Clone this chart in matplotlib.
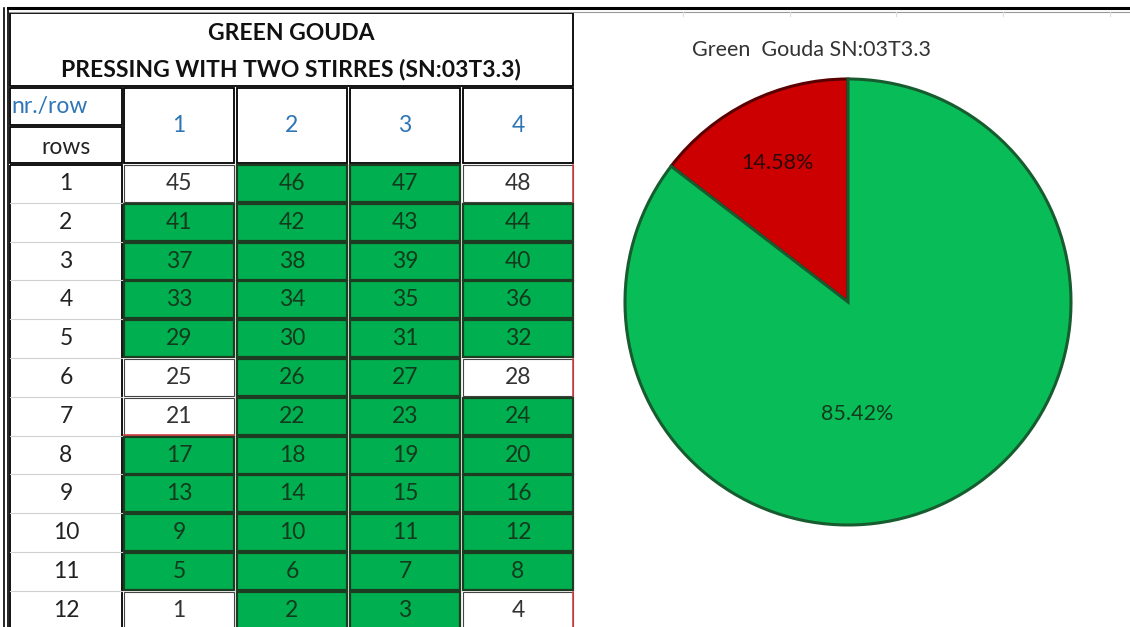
import matplotlib.pyplot as plt
from matplotlib.patches import Rectangle

plt.rcParams['font.family'] = ['Lato', 'DejaVu Sans']

# table data: cheese number per position, rows 1..12, columns 1..4
row_labels = ["1", "2", "3", "4", "5", "6", "7", "8", "9", "10", "11", "12"]
col_labels = ["1", "2", "3", "4"]
cheese_numbers = [
    [45, 46, 47, 48],
    [41, 42, 43, 44],
    [37, 38, 39, 40],
    [33, 34, 35, 36],
    [29, 30, 31, 32],
    [25, 26, 27, 28],
    [21, 22, 23, 24],
    [17, 18, 19, 20],
    [13, 14, 15, 16],
    [9, 10, 11, 12],
    [5, 6, 7, 8],
    [1, 2, 3, 4],
]
# cheeses that are not green (white cells)
not_ok = [45, 48, 25, 28, 21, 1, 4]

pie_labels = ["not ok", "ok"]
pie_values = [14.58, 85.42]
pie_colors = ["#cc0000", "#08bd58"]

title1 = "GREEN GOUDA"
title2 = "PRESSING WITH TWO STIRRES (SN:03T3.3)"
pie_title = "Green  Gouda SN:03T3.3"

FS = 16.5

W, H = 1130, 627
fig = plt.figure(figsize=(W / 100, H / 100), dpi=100)
ax = fig.add_axes([0, 0, 1, 1])
ax.set_xlim(0, W)
ax.set_ylim(H, 0)
ax.axis("off")

# sheet frame lines
ax.plot([8, W], [8, 8], color="black", lw=2.2)
ax.plot([8, W], [12, 12], color="#999999", lw=0.8)
ax.plot([4, 4], [8, H], color="black", lw=1.2)
ax.plot([8, 8], [8, H], color="black", lw=1.2)
for gx in [683, 790, 896, 1003, 1110]:
    ax.plot([gx, gx], [12, 16], color="#dddddd", lw=0.8)

# title block
ax.add_patch(Rectangle((10, 13), 563, 73, fill=False, ec="black", lw=1.3))
ax.text(291, 33, title1, ha="center", va="center", fontsize=FS, fontweight="bold", color="#111111")
ax.text(291, 70, title2, ha="center", va="center", fontsize=FS, fontweight="bold", color="#111111")

blue = "#2e75b6"
label_x0, label_w = 10, 112
col_x0, col_w, col_step = 124, 110, 113
row_y0, row_h, row_step = 165, 37, 38.8

# header cells
ax.add_patch(Rectangle((label_x0, 88), label_w, 37, fill=False, ec="black", lw=1.3))
ax.add_patch(Rectangle((label_x0, 127), label_w, 36, fill=False, ec="black", lw=1.3))
ax.text(label_x0 + 1, 106, "nr./row", ha="left", va="center", fontsize=FS, color=blue)
ax.text(label_x0 + label_w / 2, 148, "rows", ha="center", va="center", fontsize=FS, color="#222222")
for j, lab in enumerate(col_labels):
    x = col_x0 + j * col_step
    ax.add_patch(Rectangle((x, 88), col_w, 75, fill=False, ec="black", lw=1.3))
    ax.text(x + col_w / 2, 126, lab, ha="center", va="center", fontsize=FS, color=blue)

# row label column
n_rows = len(row_labels)
ax.add_patch(Rectangle((label_x0, row_y0), label_w, n_rows * row_step, fill=False, ec="black", lw=1.3))
for i, lab in enumerate(row_labels):
    y = row_y0 + i * row_step
    if i > 0:
        ax.plot([label_x0, label_x0 + label_w], [y - 1, y - 1], color="#d0d0d0", lw=0.8)
    ax.text(label_x0 + label_w / 2, y + row_h / 2, lab, ha="center", va="center", fontsize=FS, color="#222222")

# data cells
for i, row in enumerate(cheese_numbers):
    y = row_y0 + i * row_step
    for j, num in enumerate(row):
        x = col_x0 + j * col_step
        if num in not_ok:
            ax.add_patch(Rectangle((x, y), col_w, row_h, fc="white", ec="#444444", lw=0.8))
            if j == len(row) - 1:
                ax.plot([x + col_w, x + col_w], [y, y + row_h], color="#d04040", lw=1.2)
            if i == n_rows - 1 or (i == 6 and j == 0):
                ax.plot([x, x + col_w], [y + row_h, y + row_h], color="#d04040", lw=1.2)
            txt_color = "#333333"
        else:
            ax.add_patch(Rectangle((x, y), col_w, row_h, fc="#00b050", ec="#1d3d22", lw=1.6))
            txt_color = "#133a1c"
        ax.text(x + col_w / 2, y + row_h / 2, str(num), ha="center", va="center", fontsize=FS, color=txt_color)

# pie chart
cx, cy, r = 848, 302, 223
pax = fig.add_axes([(cx - r - 6) / W, (H - cy - r - 6) / H, (2 * r + 12) / W, (2 * r + 12) / H])
wedges, _ = pax.pie(pie_values, colors=pie_colors, startangle=90, counterclock=True,
                    wedgeprops=dict(edgecolor="#175c2e", linewidth=2.2))
wedges[0].set_edgecolor("#5a0000")
lim = 1 + 6 / r
pax.set_xlim(-lim, lim)
pax.set_ylim(-lim, lim)
pax.set_aspect("equal")
pax.axis("off")

pax.text(-0.315, 0.625, f"{pie_values[0]:.2f}%", ha="center", va="center", fontsize=15.5, color="#2a0a0a")
pax.text(0.04, -0.50, f"{pie_values[1]:.2f}%", ha="center", va="center", fontsize=15.5, color="#123a1c")
ax.text(811, 50, pie_title, ha="center", va="center", fontsize=15.5, color="#333333")

fig.savefig("out.png", dpi=100)
